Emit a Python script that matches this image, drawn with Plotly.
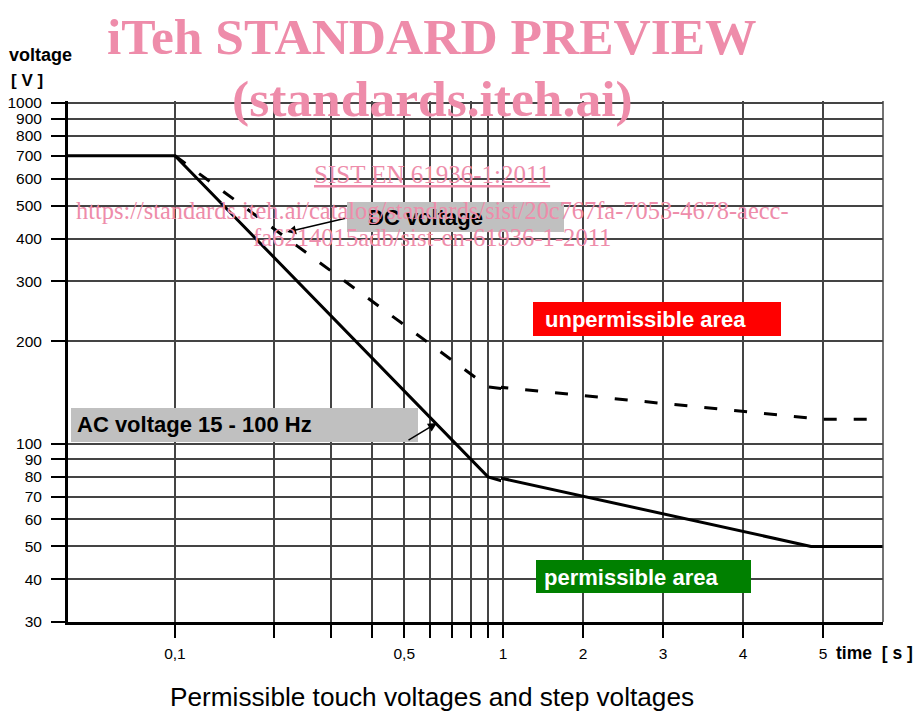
import math
import plotly.graph_objects as go

# ---------------- data ----------------
ac_time = [0.04, 0.1, 0.9, 4.85, 6.0]
ac_volt = [700, 700, 80, 50, 50]
dc_time = [0.1, 0.9, 5.0, 6.0]
dc_volt = [700, 147, 118, 118]

y_tick_vals = [30, 40, 50, 60, 70, 80, 90, 100, 200, 300, 400, 500, 600, 700, 800, 900, 1000]
y_tick_text = [str(v) for v in y_tick_vals]
x_short_vals = [0.1, 0.2, 0.3, 0.4, 0.5, 0.6, 0.7, 0.8, 0.9]
x_short_text = ["0,1", "", "", "", "0,5", "", "", "", ""]
x_long_vals = [1, 2, 3, 4, 5]
x_long_text = ["1", "2", "3", "4", "5"]

title_text = "Permissible touch voltages and step voltages"
y_title = "voltage"
y_unit = "[ V ]"
x_title = "time\u00a0\u00a0[ s ]"
dc_label = "DC voltage"
ac_label = "AC voltage 15 - 100 Hz"
unperm_label = "unpermissible area"
perm_label = "permissible area"
wm_lines = ["iTeh STANDARD PREVIEW", "(standards.iteh.ai)", "SIST EN 61936-1:2011",
            "https://standards.iteh.ai/catalog/standards/sist/20c767fa-7053-4678-aecc-",
            "fa6214015adb/sist-en-61936-1-2011"]

# ---------------- layout geometry (page pixels) ----------------
PAGE_W, PAGE_H = 921, 711
OFF = 8                      # default page margin around the plot div
W, H = PAGE_W - OFF, PAGE_H - OFF
L, R, T, B = 68, 883, 101, 622   # plot area in page pixels
SPLIT_PX = 501


def px(xp):
    return (xp - L) / (R - L)


def py(yp):
    return (B - yp) / (B - T)


split = px(SPLIT_PX)
SANS = "Liberation Sans, Arial, sans-serif"
SERIF = "Liberation Serif, Times New Roman, serif"
GRID = "#444444"
PINK = "#EE8CAA"

fig = go.Figure()
for xa in ("x", "x2"):
    fig.add_trace(go.Scatter(x=ac_time, y=ac_volt, xaxis=xa, yaxis="y", mode="lines",
                             line=dict(color="black", width=3), hoverinfo="skip"))
    fig.add_trace(go.Scatter(x=dc_time, y=dc_volt, xaxis=xa, yaxis="y", mode="lines",
                             line=dict(color="black", width=3, dash="13px,17px"),
                             hoverinfo="skip"))

axis_common = dict(ticks="outside", tickcolor="black", tickwidth=1.5,
                   showgrid=True, gridcolor=GRID, gridwidth=1.5, automargin=False,
                   showline=True, linecolor="black", linewidth=3, zeroline=False,
                   tickfont=dict(family=SANS, size=15.5, color="black"))

fig.update_layout(
    width=W, height=H, autosize=False,
    margin=dict(l=L - OFF, r=W - (R - OFF), t=T - OFF, b=H - (B - OFF), pad=0),
    paper_bgcolor="white", plot_bgcolor="white", showlegend=False,
    xaxis=dict(type="log", domain=[0, split], anchor="y",
               range=[math.log10(0.0472), math.log10(0.986)],
               tickmode="array", tickvals=x_short_vals, ticktext=x_short_text,
               ticklen=13, ticklabelstandoff=2, **axis_common),
    xaxis2=dict(type="linear", domain=[split, 1], anchor="y",
                range=[0.975, 5.75],
                tickmode="array", tickvals=x_long_vals, ticktext=x_long_text,
                ticklen=13, ticklabelstandoff=2, **axis_common),
    yaxis=dict(type="log", domain=[0, 1], anchor="x",
               range=[math.log10(30), 3.0059],
               tickmode="array", tickvals=y_tick_vals, ticktext=y_tick_text,
               ticklen=14, ticklabelstandoff=6, **axis_common),
)

# right border of the plot area
fig.add_shape(type="line", xref="x2 domain", yref="y domain", x0=1, x1=1, y0=0, y1=1,
              line=dict(color=GRID, width=1.5), layer="above")

# label boxes
boxes = [
    (347, 202, 564, 232, "#c0c0c0"),
    (71, 408, 418, 442, "#c0c0c0"),
    (533, 302, 781, 336, "#ff0000"),
    (536, 560, 751, 593, "#008000"),
]
for x0, y0, x1, y1, col in boxes:
    fig.add_shape(type="rect", xref="paper", yref="paper",
                  x0=px(x0), x1=px(x1), y0=py(y1), y1=py(y0),
                  fillcolor=col, line=dict(width=0), layer="above")

ann = []


def text(t, xp, yp, size, color="black", bold=True, family=SANS, xanchor="left"):
    ann.append(dict(text=(f"<b>{t}</b>" if bold else t), xref="paper", yref="paper",
                    x=px(xp), y=py(yp), xanchor=xanchor, yanchor="middle",
                    borderpad=0, borderwidth=0,
                    showarrow=False, font=dict(family=family, size=size, color=color)))


# arrows (head at x,y)
for hx, hy, tx, ty in [(287, 232, 347, 218), (437, 423, 407, 441)]:
    ann.append(dict(text="", xref="paper", yref="paper", x=px(hx), y=py(hy),
                    axref="pixel", ayref="pixel", ax=tx - hx, ay=ty - hy,
                    showarrow=True, arrowhead=2, arrowsize=1.2, arrowwidth=1.5,
                    arrowcolor="black", standoff=0, startstandoff=0))

# watermark
text(wm_lines[0], 432, 37, 51.5, PINK, True, SERIF, "center")
text(wm_lines[1], 432, 98, 51.5, PINK, True, SERIF, "center")
text(f"<span style='text-decoration:underline'>{wm_lines[2]}</span>", 432, 174, 25, PINK, False, SERIF, "center")

text(dc_label, 368, 217, 22)
text(ac_label, 77, 425, 22)
text(unperm_label, 545, 319, 22, "white")
text(perm_label, 544, 577, 22, "white")

text(wm_lines[3], 432, 210, 24.4, PINK, False, SERIF, "center")
text(wm_lines[4], 432, 238, 24.6, PINK, False, SERIF, "center")

text(y_title, 9, 55, 18)
text(y_unit, 11, 80, 17)
text(x_title, 836, 653, 17.5)
text(title_text, 432, 697, 26.2, bold=False, xanchor="center")

fig.update_layout(annotations=ann)
fig.write_html("out.html")
